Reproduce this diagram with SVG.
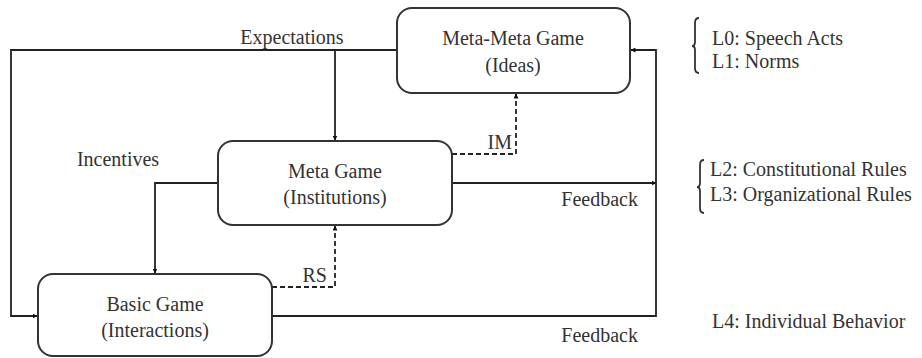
<svg xmlns="http://www.w3.org/2000/svg" width="922" height="358" viewBox="0 0 922 358">
<style>
text{font-family:"Liberation Serif","Times New Roman",serif;font-size:20px;fill:#333}
.c{text-anchor:middle}
.box{fill:#fff;stroke:#333;stroke-width:2}
.ln{fill:none;stroke:#222;stroke-width:1.8}
.ds{fill:none;stroke:#222;stroke-width:1.8;stroke-dasharray:5,3}
.br{fill:none;stroke:#333;stroke-width:1.8}
</style>
<defs>
<marker id="ah" viewBox="0 0 10 10" refX="9" refY="5" markerWidth="5" markerHeight="5" orient="auto" markerUnits="userSpaceOnUse">
<path d="M0,0L10,5L0,10z" fill="#111"/>
</marker>
</defs>
<rect width="922" height="358" fill="#fff"/>
<g id="connectors">
<path class="ln" d="M397,50H11V316H37" marker-end="url(#ah)"/>
<path class="ln" d="M335,50V140" marker-end="url(#ah)"/>
<path class="ln" d="M218,183H155V273" marker-end="url(#ah)"/>
<path class="ds" d="M452,154H516V94" marker-end="url(#ah)"/>
<path class="ds" d="M272,287H335V226" marker-end="url(#ah)"/>
<path class="ln" d="M452,183H656" marker-end="url(#ah)"/>
<path class="ln" d="M272,316H656V50H631" marker-end="url(#ah)"/>
<text class="c" x="292" y="44">Expectations</text>
<text class="c" x="118" y="166">Incentives</text>
<text x="512" y="149" text-anchor="end">IM</text>
<text x="327" y="282" text-anchor="end">RS</text>
<text x="638" y="206" text-anchor="end">Feedback</text>
<text x="638" y="342" text-anchor="end">Feedback</text>
</g>
<g id="meta-meta">
<rect class="box" x="397" y="8" width="233" height="85" rx="15"/>
<text class="c" x="513" y="45">Meta-Meta Game</text>
<text class="c" x="513" y="72">(Ideas)</text>
</g>
<g id="meta">
<rect class="box" x="218" y="141" width="234" height="84" rx="15"/>
<text class="c" x="335" y="178">Meta Game</text>
<text class="c" x="335" y="204">(Institutions)</text>
</g>
<g id="basic">
<rect class="box" x="38" y="274" width="234" height="82" rx="15"/>
<text class="c" x="155" y="311">Basic Game</text>
<text class="c" x="155" y="337">(Interactions)</text>
</g>
<g id="levels">
<path class="br" d="M699,18Q695,18 695,23V42Q695,46 692,46Q695,46 695,50V68Q695,73 699,73"/>
<text x="712" y="45">L0: Speech Acts</text>
<text x="712" y="68">L1: Norms</text>
<path class="br" d="M704,160Q700,160 700,165V183Q700,187 697,187Q700,187 700,191V208Q700,213 704,213"/>
<text x="710" y="176">L2: Constitutional Rules</text>
<text x="710" y="201">L3: Organizational Rules</text>
<text x="712" y="328">L4: Individual Behavior</text>
</g>
</svg>
